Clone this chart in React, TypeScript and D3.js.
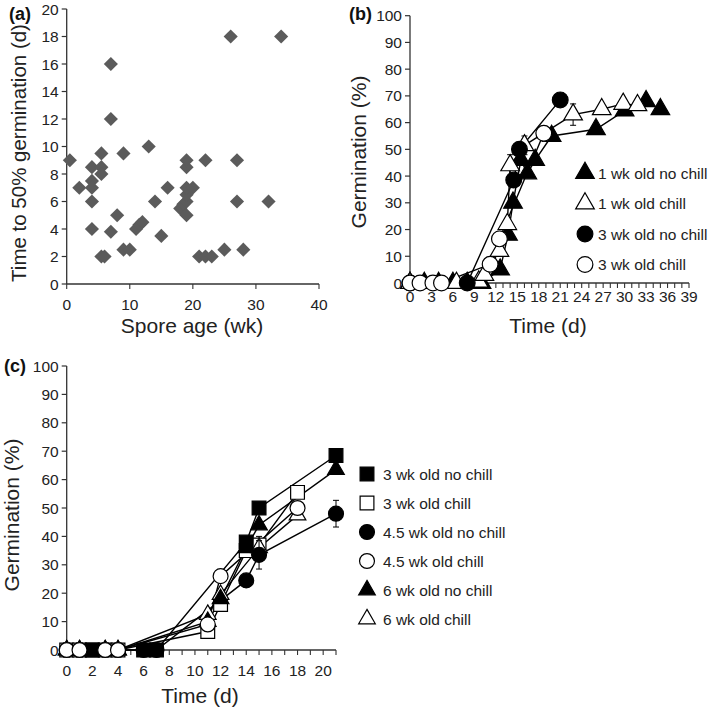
import React from 'react';
import * as d3 from 'd3';

// ---------- Panel (a) data ----------
const sporeAge = [0.5, 2, 4, 4, 4, 4, 4, 5.5, 5.5, 5.5, 5.5, 6, 7, 7, 7, 8, 9, 9, 10, 11, 11.5, 12, 13, 14, 15, 16, 18, 18.5, 19, 19, 19, 19, 19, 19, 20, 21, 22, 23, 22, 25, 26, 27, 27, 28, 32, 34];
const timeTo50 = [9, 7, 8.5, 7.5, 7, 6, 4, 9.5, 8.5, 8, 2, 2, 16, 12, 3.8, 5, 9.5, 2.5, 2.5, 4, 4.3, 4.5, 10, 6, 3.5, 7, 5.5, 5.8, 5, 6, 6.5, 7, 8.5, 9, 7, 2, 2, 2, 9, 2.5, 18, 9, 6, 2.5, 6, 18];
const aYTicks = [0, 2, 4, 6, 8, 10, 12, 14, 16, 18, 20];
const aXTicks = [0, 10, 20, 30, 40];

// ---------- Panel (b) data ----------
const bLabels = ['1 wk old no chill', '1 wk old chill', '3 wk old no chill', '3 wk old chill'];
const b1wkNoChill: [number, number][] = [[0, 0], [2, 0], [4, 0], [6, 0], [8, 0], [10, 0], [12.6, 5], [13.7, 18], [14.4, 30], [15.5, 46], [16.4, 41], [17.5, 46], [19.8, 55], [26, 57.5], [30, 64.5], [33, 68], [35, 65]];
const b1wkChill: [number, number][] = [[0, 0], [6.5, 0], [9.6, 0.5], [10.4, 3], [12.5, 12], [13.6, 22], [14, 44], [16, 51.5], [22.8, 63], [26.8, 65], [29.8, 67], [31.8, 66.5]];
const b1wkChillErr = [0, 0, 0, 0, 0, 0, 4, 3.5, 4, 0, 0, 0];
const b3wkNoChill: [number, number][] = [[0, 0], [8, 0], [14.5, 38.5], [15.3, 50], [21, 68.5]];
const b3wkChill: [number, number][] = [[0, 0], [1.4, 0], [3.2, 0], [4.4, 0], [11.2, 7], [12.5, 16.5], [18.7, 56]];
const bYTicks = [0, 10, 20, 30, 40, 50, 60, 70, 80, 90, 100];
const bXTicks = [0, 3, 6, 9, 12, 15, 18, 21, 24, 27, 30, 33, 36, 39];

// ---------- Panel (c) data ----------
const cLabels = ['3 wk old no chill', '3 wk old chill', '4.5 wk old no chill', '4.5 wk old chill', '6 wk old no chill', '6 wk old chill'];
const c3wkNoChill: [number, number][] = [[2, 0], [6, 0], [7, 0], [14, 38], [15, 50], [21, 68.5]];
const c3wkChill: [number, number][] = [[0, 0], [1, 0], [2, 0], [3, 0], [4, 0], [11, 6.5], [12, 16], [14, 35], [15, 37], [18, 55.5]];
const c3wkChillErr = [0, 0, 0, 0, 0, 0, 0, 0, 3, 0];
const c45wkNoChill: [number, number][] = [[0, 0], [1, 0], [3, 0], [4, 0], [6, 0], [7, 0], [14, 24.5], [15, 33.5], [21, 48]];
const c45wkNoChillErr = [0, 0, 0, 0, 0, 0, 0, 5, 4.7];
const c45wkChill: [number, number][] = [[0, 0], [1, 0], [3, 0], [4, 0], [11, 9], [12, 26], [18, 50]];
const c6wkNoChill: [number, number][] = [[0, 0], [1, 0], [3, 0], [4, 0], [11, 10], [12, 18], [14, 36], [15, 44], [21, 63.5]];
const c6wkChill: [number, number][] = [[0, 0], [1, 0], [3, 0], [4, 0], [11, 12.5], [12, 19.5], [15, 36], [18, 47.5]];
const cYTicks = [0, 10, 20, 30, 40, 50, 60, 70, 80, 90, 100];
const cXTicks = [0, 2, 4, 6, 8, 10, 12, 14, 16, 18, 20];

const FONT = '"Liberation Sans", Arial, sans-serif';
const AXIS = '#333';

type Shape = 'triangle' | 'circle' | 'square';
type Sizes = { triangle: number; circle: number; square: number };
const symbolType = (s: Shape) => (s === 'triangle' ? d3.symbolTriangle : s === 'circle' ? d3.symbolCircle : d3.symbolSquare);

function Marker({ x, y, shape, filled, sizes }: { x: number; y: number; shape: Shape; filled: boolean; sizes: Sizes }) {
  const p = d3.symbol().type(symbolType(shape)).size(sizes[shape])() as string;
  return (
    <path
      d={p}
      transform={`translate(${x},${y})`}
      fill={filled ? '#000' : '#fff'}
      stroke="#000"
      strokeWidth={1.2}
    />
  );
}

interface Series {
  pts: [number, number][];
  shape: Shape;
  filled: boolean;
  err?: number[];
}

function LinePanel({
  series,
  x,
  y,
  sizes,
}: {
  series: Series[];
  x: d3.ScaleLinear<number, number>;
  y: d3.ScaleLinear<number, number>;
  sizes: Sizes;
}) {
  const line = d3
    .line<[number, number]>()
    .x((d) => x(d[0]))
    .y((d) => y(d[1]));
  return (
    <g>
      {series.map((s, i) => (
        <path key={'l' + i} d={line(s.pts) as string} fill="none" stroke="#000" strokeWidth={1.4} />
      ))}
      {series.map((s, i) => (
        <g key={'m' + i}>
          {s.pts.map((p, j) => {
            const e = s.err ? s.err[j] : 0;
            return (
              <g key={j}>
                {e > 0 && (
                  <g stroke="#000" strokeWidth={1}>
                    <line x1={x(p[0])} x2={x(p[0])} y1={y(p[1] - e)} y2={y(p[1] + e)} />
                    <line x1={x(p[0]) - 3} x2={x(p[0]) + 3} y1={y(p[1] - e)} y2={y(p[1] - e)} />
                    <line x1={x(p[0]) - 3} x2={x(p[0]) + 3} y1={y(p[1] + e)} y2={y(p[1] + e)} />
                  </g>
                )}
                <Marker x={x(p[0])} y={y(p[1])} shape={s.shape} filled={s.filled} sizes={sizes} />
              </g>
            );
          })}
        </g>
      ))}
    </g>
  );
}

function YAxis({ y, ticks, x0 }: { y: d3.ScaleLinear<number, number>; ticks: number[]; x0: number }) {
  const [r0, r1] = y.range();
  return (
    <g>
      <line x1={x0} x2={x0} y1={r0} y2={r1} stroke={AXIS} strokeWidth={1.3} />
      {ticks.map((t) => (
        <g key={t}>
          <line x1={x0 - 5} x2={x0} y1={y(t)} y2={y(t)} stroke={AXIS} strokeWidth={1.2} />
          <text x={x0 - 8} y={y(t)} dy="0.36em" textAnchor="end" fontSize={15.5} fontFamily={FONT} fill="#222">
            {t}
          </text>
        </g>
      ))}
    </g>
  );
}

function XAxis({
  x,
  y0,
  labels,
  minor,
  labelDy,
}: {
  x: d3.ScaleLinear<number, number>;
  y0: number;
  labels: number[];
  minor: number[];
  labelDy: number;
}) {
  const [r0, r1] = x.range();
  return (
    <g>
      <line x1={r0} x2={r1} y1={y0} y2={y0} stroke={AXIS} strokeWidth={1.3} />
      {minor.map((t) => (
        <line key={'m' + t} x1={x(t)} x2={x(t)} y1={y0} y2={y0 + 5} stroke={AXIS} strokeWidth={1.1} />
      ))}
      {labels.map((t) => (
        <text key={t} x={x(t)} y={y0 + labelDy} textAnchor="middle" fontSize={15.5} fontFamily={FONT} fill="#222">
          {t}
        </text>
      ))}
    </g>
  );
}

export default function App() {
  // Panel (a)
  const ax = d3.scaleLinear().domain([0, 40]).range([66.7, 319]);
  const ay = d3.scaleLinear().domain([0, 20]).range([284, 9]);
  const diamond = d3.symbol().type(d3.symbolSquare).size(100)() as string;

  // Panel (b)
  const bx = d3.scaleLinear().domain([0, 39]).range([410, 689]);
  const by = d3.scaleLinear().domain([0, 100]).range([283, 15.7]);
  const bMinor = d3.range(0, 40, 1);
  const bSizes: Sizes = { triangle: 150, circle: 195, square: 190 };

  // Panel (c)
  const cx = d3.scaleLinear().domain([0, 21]).range([66.7, 336]);
  const cy = d3.scaleLinear().domain([0, 100]).range([650, 366]);
  const cMinor = d3.range(0, 22, 1);
  const cSizes: Sizes = { triangle: 120, circle: 175, square: 190 };

  const bSeries: Series[] = [
    { pts: b1wkNoChill, shape: 'triangle', filled: true },
    { pts: b1wkChill, shape: 'triangle', filled: false, err: b1wkChillErr },
    { pts: b3wkNoChill, shape: 'circle', filled: true },
    { pts: b3wkChill, shape: 'circle', filled: false },
  ];
  const bLegend: { shape: Shape; filled: boolean }[] = [
    { shape: 'triangle', filled: true },
    { shape: 'triangle', filled: false },
    { shape: 'circle', filled: true },
    { shape: 'circle', filled: false },
  ];

  const cSeries: Series[] = [
    { pts: c3wkChill, shape: 'square', filled: false, err: c3wkChillErr },
    { pts: c6wkChill, shape: 'triangle', filled: false },
    { pts: c6wkNoChill, shape: 'triangle', filled: true },
    { pts: c45wkNoChill, shape: 'circle', filled: true, err: c45wkNoChillErr },
    { pts: c3wkNoChill, shape: 'square', filled: true },
    { pts: c45wkChill, shape: 'circle', filled: false },
  ];
  const cLegend: { shape: Shape; filled: boolean }[] = [
    { shape: 'square', filled: true },
    { shape: 'square', filled: false },
    { shape: 'circle', filled: true },
    { shape: 'circle', filled: false },
    { shape: 'triangle', filled: true },
    { shape: 'triangle', filled: false },
  ];

  return (
    <svg
      width={709}
      height={707}
      viewBox="0 0 709 707"
      style={{ position: 'absolute', left: 0, top: 0, background: '#fff' }}
      fontFamily={FONT}
    >
      <rect width={709} height={707} fill="#fff" />

      {/* ---------- (a) ---------- */}
      <text x={9} y={20} fontSize={18} fontWeight="bold" fill="#111">(a)</text>
      <YAxis y={ay} ticks={aYTicks} x0={66.7} />
      <XAxis x={ax} y0={284} labels={aXTicks} minor={aXTicks} labelDy={26} />
      <text transform={`translate(26,153) rotate(-90)`} textAnchor="middle" fontSize={20.5} fill="#222">
        Time to 50% germination (d)
      </text>
      <text x={192} y={333} textAnchor="middle" fontSize={21} fill="#222">
        Spore age (wk)
      </text>
      {sporeAge.map((a, i) => (
        <path
          key={i}
          d={diamond}
          transform={`translate(${ax(a)},${ay(timeTo50[i])}) rotate(45)`}
          fill="#5b5b5b"
        />
      ))}

      {/* ---------- (b) ---------- */}
      <text x={349} y={20} fontSize={18} fontWeight="bold" fill="#111">(b)</text>
      <YAxis y={by} ticks={bYTicks} x0={410} />
      <XAxis x={bx} y0={283} labels={bXTicks} minor={bMinor} labelDy={19} />
      <text transform={`translate(366,152) rotate(-90)`} textAnchor="middle" fontSize={21} fill="#222">
        Germination (%)
      </text>
      <text x={548} y={333} textAnchor="middle" fontSize={21} fill="#222">
        Time (d)
      </text>
      <LinePanel series={bSeries} x={bx} y={by} sizes={bSizes} />
      {bLabels.map((l, i) => (
        <g key={l}>
          <Marker x={585} y={173 + i * 30.5} shape={bLegend[i].shape} filled={bLegend[i].filled} sizes={bSizes} />
          <text x={598} y={173 + i * 30.5} dy="0.36em" fontSize={15.5} fill="#222">
            {l}
          </text>
        </g>
      ))}

      {/* ---------- (c) ---------- */}
      <text x={4} y={372} fontSize={18} fontWeight="bold" fill="#111">(c)</text>
      <YAxis y={cy} ticks={cYTicks} x0={66.7} />
      <XAxis x={cx} y0={650} labels={cXTicks} minor={cMinor} labelDy={26} />
      <text transform={`translate(19,515) rotate(-90)`} textAnchor="middle" fontSize={21} fill="#222">
        Germination (%)
      </text>
      <text x={200} y={703} textAnchor="middle" fontSize={21} fill="#222">
        Time (d)
      </text>
      <LinePanel series={cSeries} x={cx} y={cy} sizes={cSizes} />
      {cLabels.map((l, i) => (
        <g key={l}>
          <Marker x={367} y={474 + i * 29} shape={cLegend[i].shape} filled={cLegend[i].filled} sizes={cSizes} />
          <text x={383} y={474 + i * 29} dy="0.36em" fontSize={15.5} fill="#222">
            {l}
          </text>
        </g>
      ))}
    </svg>
  );
}
